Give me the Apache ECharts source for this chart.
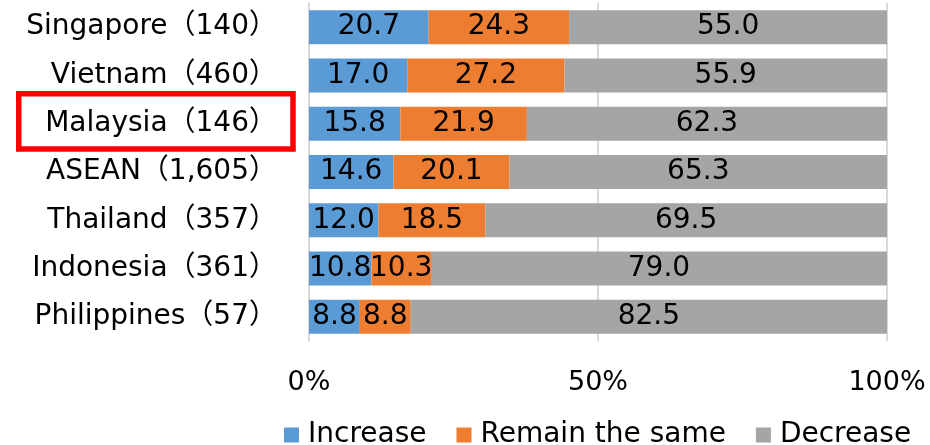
<!DOCTYPE html>
<html>
<head>
<meta charset="utf-8">
<style>
  html, body { margin: 0; padding: 0; background: #fff; }
  #chart { width: 930px; height: 445px; }
</style>
<script src="https://cdn.jsdelivr.net/npm/echarts@6/dist/echarts.min.js"></script>
</head>
<body>
<div id="chart"></div>
<script>
// Survey responses by country (sample size in brackets), percent
const categories = [
  'Singapore（140）',
  'Vietnam（460）',
  'Malaysia（146）',
  'ASEAN（1,605）',
  'Thailand（357）',
  'Indonesia（361）',
  'Philippines（57）'
];
const increase = [20.7, 17.0, 15.8, 14.6, 12.0, 10.8, 8.8];
const remainSame = [24.3, 27.2, 21.9, 20.1, 18.5, 10.3, 8.8];
const decrease = [55.0, 55.9, 62.3, 65.3, 69.5, 79.0, 82.5];
const xTicks = [0, 50, 100];

const FONT = '"DejaVu Sans", "Noto Sans CJK JP", sans-serif';

const chart = echarts.init(document.getElementById('chart'), null, { renderer: 'canvas' });

function barSeries(name, data, color) {
  return {
    name: name,
    type: 'bar',
    stack: 'total',
    data: data,
    barWidth: 34,
    itemStyle: { color: color },
    label: {
      show: true,
      position: 'inside',
      color: '#000',
      fontFamily: FONT,
      fontSize: 28,
      formatter: p => p.value.toFixed(1)
    },
    emphasis: { disabled: true }
  };
}

chart.setOption({
  animation: false,
  textStyle: { fontFamily: FONT },
  grid: { left: 309, right: 43, top: 3, height: 338, containLabel: false },
  xAxis: {
    type: 'value',
    min: xTicks[0],
    max: xTicks[xTicks.length - 1],
    interval: 50,
    axisLine: { show: false },
    axisTick: { show: false },
    splitLine: { show: true, lineStyle: { color: '#d9d9d9', width: 2 } },
    axisLabel: {
      margin: 28,
      color: '#000',
      fontFamily: FONT,
      fontSize: 27,
      formatter: '{value}%'
    }
  },
  yAxis: {
    type: 'category',
    inverse: true,
    data: categories,
    axisLine: { show: true, lineStyle: { color: '#d9d9d9', width: 2 } },
    axisTick: { show: false },
    axisLabel: {
      margin: 32,
      color: '#000',
      fontFamily: FONT,
      fontSize: 28
    }
  },
  legend: {
    top: 416,
    left: 279,
    itemWidth: 15,
    itemHeight: 15,
    itemGap: 30,
    icon: 'rect',
    textStyle: {
      color: '#000',
      fontFamily: FONT,
      fontSize: 28,
      padding: [0, 0, 0, 4]
    },
    data: ['Increase', 'Remain the same', 'Decrease']
  },
  graphic: [{
    type: 'rect',
    shape: { x: 18.75, y: 93.75, width: 274.25, height: 55.25 },
    style: { fill: null, stroke: '#ff0000', lineWidth: 5.5 },
    silent: true
  }],
  series: [
    barSeries('Increase', increase, '#5b9bd5'),
    barSeries('Remain the same', remainSame, '#ed7d31'),
    barSeries('Decrease', decrease, '#a5a5a5')
  ]
});
</script>
</body>
</html>
